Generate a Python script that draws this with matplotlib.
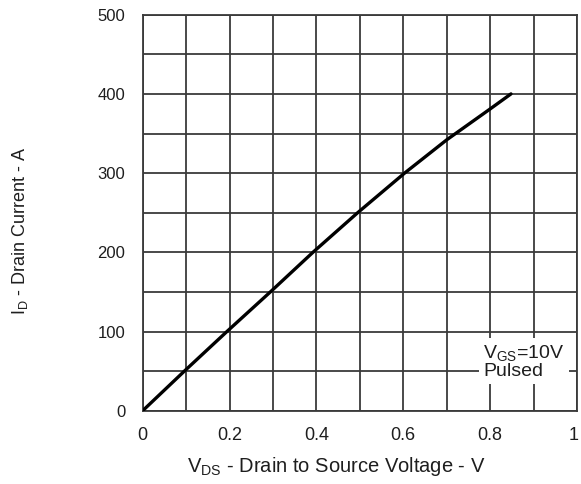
import matplotlib
matplotlib.use("Agg")
import matplotlib.pyplot as plt
import matplotlib.transforms as mtransforms
import numpy as np

plt.rcParams['font.family'] = ['Liberation Sans', 'DejaVu Sans']

# drain current vs drain-source voltage, VGS = 10 V (pulsed)
vds = [0.0, 0.096, 0.194, 0.294, 0.392, 0.495, 0.603, 0.700, 0.800, 0.848]
i_d = [0, 50, 100, 150, 200, 250, 300, 342, 381, 400]

x_ticks = [0, 0.2, 0.4, 0.6, 0.8, 1]
x_labels = ['0', '0.2', '0.4', '0.6', '0.8', '1']
y_ticks = [0, 100, 200, 300, 400, 500]

GRID = '#3a3a3a'
TEXT = '#1e1e1e'

fig = plt.figure(figsize=(5.81, 4.84), dpi=100)
ax = fig.add_axes([142.7 / 581, 1 - 410.7 / 484, (577 - 142.7) / 581, (410.7 - 14.7) / 484])

ax.set_xlim(0, 1)
ax.set_ylim(0, 500)
ax.set_xticks(np.arange(0, 1.01, 0.1), minor=True)
ax.set_yticks(np.arange(0, 501, 50), minor=True)
ax.grid(which='both', color=GRID, linewidth=1.3)
ax.set_axisbelow(True)

ax.set_xticks(x_ticks)
ax.set_xticklabels(x_labels)
ax.set_yticks(y_ticks)
ax.tick_params(which='both', length=0)
ax.tick_params(axis='x', pad=11.5, labelsize=13, labelcolor=TEXT)
ax.tick_params(axis='y', pad=12.5, labelsize=12, labelcolor=TEXT)
for sp in ax.spines.values():
    sp.set_color(GRID)
    sp.set_linewidth(1.3)

# keep the "1" at the right edge inside the canvas
last = ax.get_xticklabels()[-1]
last.set_transform(last.get_transform() + mtransforms.ScaledTranslation(-3 / 100, 0, fig.dpi_scale_trans))

ax.plot(vds, i_d, color='black', linewidth=2.4, solid_capstyle='round', zorder=5)

ax.text(0.784, 61.5, 'V$_\\mathregular{GS}$=10V\nPulsed', fontsize=14, color=TEXT,
        ha='left', va='center', linespacing=0.95,
        bbox=dict(facecolor='white', edgecolor='none', pad=3), zorder=4)

fig.text(336 / 581, 1 - 467 / 484, 'V$_\\mathregular{DS}$ - Drain to Source Voltage - V',
         fontsize=14.5, color=TEXT, ha='center', va='center')
fig.text(20 / 581, 1 - 231 / 484, 'I$_\\mathregular{D}$ - Drain Current - A',
         fontsize=13, color=TEXT, ha='center', va='center', rotation=90)

fig.savefig('out.png', dpi=100)
